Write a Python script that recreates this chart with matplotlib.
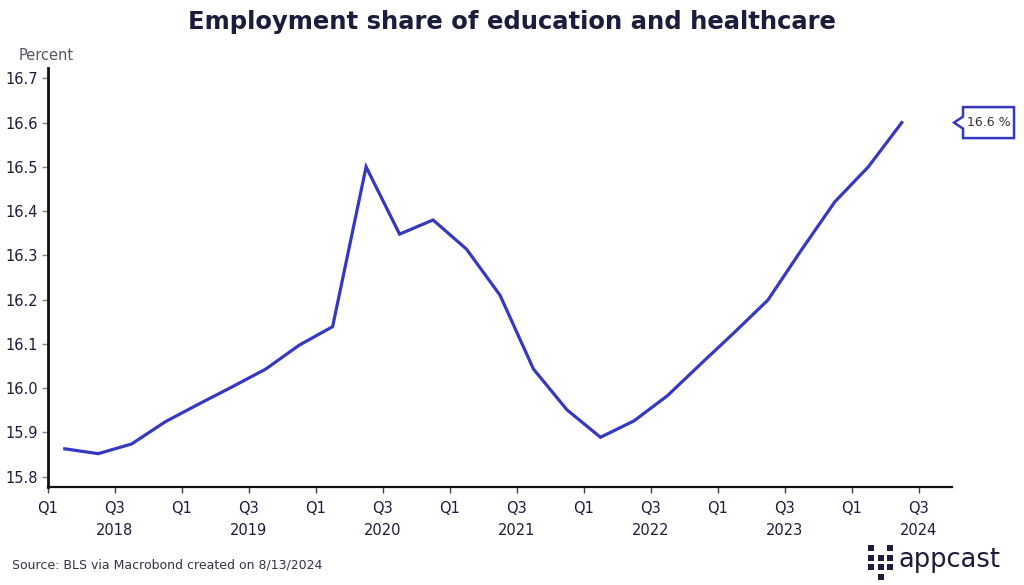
"""
Employment share of education and healthcare, quarterly, 2018-2024.
"""
import numpy as np
import matplotlib.pyplot as plt
from matplotlib.patches import Polygon, Rectangle
from matplotlib.transforms import IdentityTransform

# quarterly values (percent), Q1 2018 .. Q2 2024
years = [2018] * 4 + [2019] * 4 + [2020] * 4 + [2021] * 4 + [2022] * 4 + [2023] * 4 + [2024] * 2
quarters = [1, 2, 3, 4] * 6 + [1, 2]
share = [15.863, 15.852, 15.874, 15.924,
         15.964, 16.003, 16.043, 16.097,
         16.139, 16.500, 16.348, 16.380,
         16.314, 16.210, 16.043, 15.951,
         15.889, 15.926, 15.983, 16.055,
         16.126, 16.199, 16.312, 16.421,
         16.500, 16.600]

tick_years = [2018, 2019, 2020, 2021, 2022, 2023, 2024]
yticks = [15.8, 15.9, 16.0, 16.1, 16.2, 16.3, 16.4, 16.5, 16.6, 16.7]

NAVY = '#1c1c3c'
BLUE = '#3539c2'
GREY = '#555560'

plt.rcParams['font.family'] = ['DejaVu Sans']

# points sit in the middle of each quarter
xs = np.array(years) + (np.array(quarters) - 1) / 4 + 0.125

fig = plt.figure(figsize=(10.24, 5.85), dpi=100)
ax = fig.add_axes([0.0469, 0.167, 0.9297 - 0.0469, 0.8832 - 0.167])

ax.plot(xs, share, color=BLUE, lw=2.3, solid_joinstyle='miter')

ax.set_xlim(2018, 2024.75)
ax.set_ylim(15.776, 16.7226)

xt, xl = [], []
for y in tick_years:
    xt += [y, y + 0.5]
    xl += ['Q1', 'Q3\n' + str(y)]
ax.set_xticks(xt)
ax.set_xticklabels(xl, linespacing=1.55)
ax.set_yticks(yticks)
ax.set_yticklabels(['%.1f' % v for v in yticks])

ax.tick_params(axis='both', colors=NAVY, labelsize=10.5, length=4, width=1)
ax.tick_params(axis='x', pad=6, color='#444444')
ax.tick_params(axis='y', pad=3, color='#888888')

for s in ['top', 'right']:
    ax.spines[s].set_visible(False)
ax.spines['left'].set_linewidth(2.0)
ax.spines['left'].set_color('#111111')
ax.spines['bottom'].set_linewidth(1.6)
ax.spines['bottom'].set_color('#111111')

fig.text(0.5, 0.962, 'Employment share of education and healthcare',
         ha='center', va='center', fontsize=17.5, color=NAVY, fontweight='bold')
fig.text(0.018, 0.905, 'Percent', ha='left', va='center', fontsize=10.5, color=GREY)
fig.text(0.012, 0.035, 'Source: BLS via Macrobond created on 8/13/2024',
         ha='left', va='center', fontsize=9, color='#333344')

# value callout next to last point
fig.canvas.draw()
tipx, tipy = ax.transAxes.transform((1.0, 0))[0] + 2, ax.transData.transform((xs[-1], share[-1]))[1]
d, h, w, hh = 9, 6, 51, 15.5
verts = [(tipx, tipy), (tipx + d, tipy + h), (tipx + d, tipy + hh), (tipx + d + w, tipy + hh),
         (tipx + d + w, tipy - hh), (tipx + d, tipy - hh), (tipx + d, tipy - h)]
fig.add_artist(Polygon(verts, closed=True, fc='white', ec=BLUE, lw=1.8,
                       transform=IdentityTransform()))
fig.text((tipx + d + w / 2) / fig.bbox.width, tipy / fig.bbox.height, '%.1f %%' % share[-1],
         ha='center', va='center', fontsize=9, color='#333333')

# appcast logo
grid = [[1, 0, 1], [1, 1, 1], [1, 1, 1], [0, 1, 0]]
x0, y0, step, sq = 868, 585 - 545, 9.5, 6
for r, row in enumerate(grid):
    for c, on in enumerate(row):
        if on:
            fig.add_artist(Rectangle((x0 + c * step, y0 - r * step - sq), sq, sq,
                                     fc=NAVY, ec='none', transform=IdentityTransform()))
fig.text(898 / 1024, 1 - 560 / 585, 'appcast', ha='left', va='center',
         fontsize=18.5, color=NAVY, fontweight='medium')

fig.savefig('out.png', dpi=100)
